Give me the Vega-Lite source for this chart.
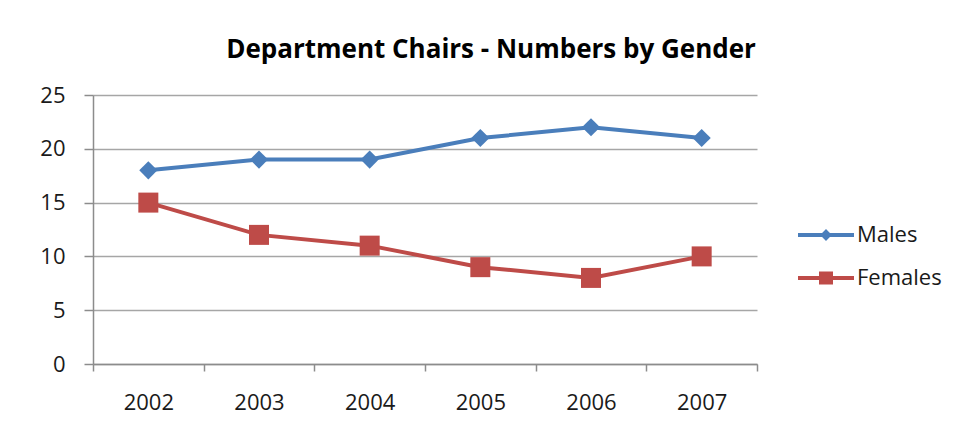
{
  "$schema": "https://vega.github.io/schema/vega-lite/v6.json",
  "autosize": "none",
  "width": 664,
  "height": 269,
  "padding": {"left": 93, "top": 95, "right": 204, "bottom": 69},
  "background": "white",
  "title": {
    "text": "Department Chairs - Numbers by Gender",
    "font": "Open Sans",
    "fontSize": 26,
    "fontWeight": "bold",
    "color": "#000000",
    "anchor": "middle",
    "frame": "group",
    "dx": 66,
    "offset": 21
  },
  "config": {
    "view": {"stroke": null},
    "axis": {"labelFont": "Open Sans", "labelFontSize": 22, "labelColor": "#1a1a1a"}
  },
  "data": {
    "values": [
      {"year": 2002, "gender": "Males", "count": 18},
      {"year": 2003, "gender": "Males", "count": 19},
      {"year": 2004, "gender": "Males", "count": 19},
      {"year": 2005, "gender": "Males", "count": 21},
      {"year": 2006, "gender": "Males", "count": 22},
      {"year": 2007, "gender": "Males", "count": 21},
      {"year": 2002, "gender": "Females", "count": 15},
      {"year": 2003, "gender": "Females", "count": 12},
      {"year": 2004, "gender": "Females", "count": 11},
      {"year": 2005, "gender": "Females", "count": 9},
      {"year": 2006, "gender": "Females", "count": 8},
      {"year": 2007, "gender": "Females", "count": 10}
    ]
  },
  "encoding": {
    "x": {
      "field": "year",
      "type": "quantitative",
      "scale": {"domain": [2001.5, 2007.5], "nice": false, "zero": false},
      "axis": {
        "title": null,
        "values": [2001.5, 2002.5, 2003.5, 2004.5, 2005.5, 2006.5, 2007.5],
        "labelExpr": "datum.value < 2007 ? format(datum.value + 0.5, 'd') : ''",
        "labelOffset": 55.33,
        "labelOverlap": false,
        "labelBound": false,
        "labelFlush": false,
        "labelPadding": 21,
        "grid": false,
        "domainColor": "#8c8c8c",
        "domainWidth": 1.5,
        "tickColor": "#8c8c8c",
        "tickWidth": 1.5,
        "tickSize": 7
      }
    },
    "y": {
      "field": "count",
      "type": "quantitative",
      "scale": {"domain": [0, 25], "nice": false},
      "axis": {
        "title": null,
        "values": [0, 5, 10, 15, 20, 25],
        "grid": true,
        "gridColor": "#a6a6a6",
        "gridWidth": 1.5,
        "domainColor": "#8c8c8c",
        "domainWidth": 1.5,
        "tickColor": "#8c8c8c",
        "tickWidth": 1.5,
        "tickSize": 9,
        "labelPadding": 19
      }
    },
    "color": {
      "field": "gender",
      "type": "nominal",
      "scale": {"domain": ["Males", "Females"], "range": ["#4a7ebb", "#be4b48"]},
      "legend": {
        "title": null,
        "orient": "none",
        "legendX": 705,
        "legendY": 129,
        "padding": 0,
        "symbolSize": 3136,
        "symbolType": "M-1,-0.07H1V0.07H-1Z",
        "symbolStrokeWidth": 0,
        "clipHeight": 22,
        "rowPadding": 21,
        "labelFont": "Open Sans",
        "labelFontSize": 22,
        "labelColor": "#1a1a1a",
        "labelOffset": 3,
        "encode": {
          "symbols": {
            "update": {
              "shape": {"signal": "datum.value === 'Males' ? 'M-1,-0.07H1V0.07H-1Z M0,-0.21L0.21,0L0,0.21L-0.21,0Z' : 'M-1,-0.07H1V0.07H-1Z M-0.25,-0.23H0.25V0.23H-0.25Z'"},
              "size": {"value": 3136},
              "fill": {"signal": "datum.value === 'Males' ? '#4a7ebb' : '#be4b48'"},
              "stroke": {"value": "transparent"},
              "strokeWidth": {"value": 0},
              "opacity": {"value": 1},
              "fillOpacity": {"value": 1}
            }
          }
        }
      }
    }
  },
  "layer": [
    {
      "mark": {"type": "line", "strokeWidth": 4}
    },
    {
      "transform": [{"filter": "datum.gender === 'Males'"}],
      "mark": {"type": "point", "filled": true, "opacity": 1, "strokeWidth": 0, "shape": "diamond", "size": 330}
    },
    {
      "transform": [{"filter": "datum.gender === 'Females'"}],
      "mark": {"type": "point", "filled": true, "opacity": 1, "strokeWidth": 0, "shape": "square", "size": 400}
    }
  ]
}
